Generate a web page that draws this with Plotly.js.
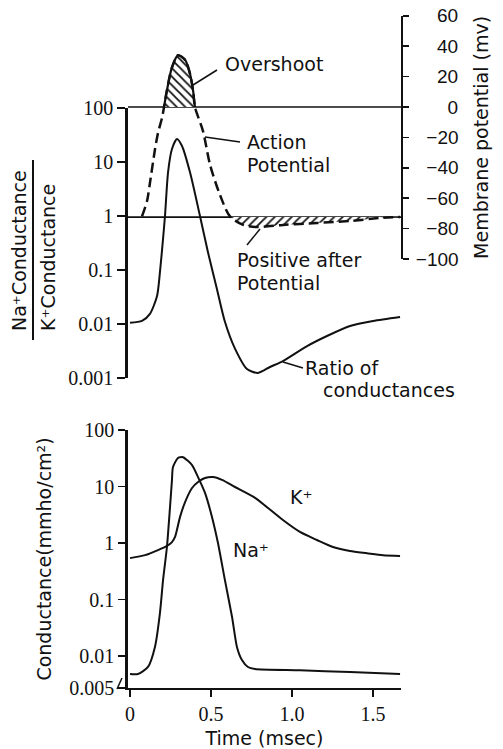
<!DOCTYPE html>
<html><head><meta charset="utf-8">
<script src="https://cdn.plot.ly/plotly-3.0.1.min.js"></script>
<style>html,body{margin:0;padding:0;background:#fff}#chart{width:503px;height:749px}</style>
</head><body><div id="chart"></div>
<script>
// ---- data ----
// time (msec)
const tRatio = [0, 0.074, 0.123, 0.167, 0.185, 0.204, 0.216, 0.235, 0.259, 0.290, 0.321, 0.370, 0.432, 0.481, 0.537, 0.586, 0.648, 0.722, 0.790, 0.864, 0.944, 1.093, 1.216, 1.358, 1.500, 1.667];
// Na+ conductance / K+ conductance
const ratio = [0.0105, 0.0114, 0.0154, 0.033, 0.092, 0.38, 1.0, 6.5, 17.4, 26.7, 19.8, 6.5, 1.0, 0.215, 0.044, 0.011, 0.0035, 0.00147, 0.00124, 0.0016, 0.00206, 0.0039, 0.006, 0.0092, 0.0114, 0.0135];

// action potential (mV)
const tAP = [0.074, 0.105, 0.123, 0.154, 0.173, 0.198, 0.210, 0.228, 0.259, 0.296, 0.340, 0.370, 0.389, 0.401, 0.451, 0.494, 0.556, 0.617, 0.698, 0.784, 0.944, 1.154, 1.358, 1.562, 1.667];
const vAP = [-72, -62, -50, -28, -17, -7, 0, 11, 26, 34, 31, 22, 11, 0, -16, -38, -58, -72, -77.5, -79, -77.6, -76.3, -75, -72.8, -72.4];
const restingPotential = -72.4;   // level of the lower reference line (ratio = 1)
const zeroPotential = 0;

// conductances (mmho/cm2)
const tNa = [0, 0.049, 0.111, 0.154, 0.185, 0.204, 0.228, 0.247, 0.259, 0.265, 0.296, 0.327, 0.383, 0.420, 0.463, 0.506, 0.543, 0.586, 0.630, 0.660, 0.691, 0.728, 0.772, 1.049, 1.358, 1.667];
const na = [0.0048, 0.0048, 0.0064, 0.0145, 0.058, 0.22, 0.85, 4.3, 13, 22, 32, 33, 24, 14.7, 7.7, 2.9, 1.0, 0.22, 0.049, 0.0145, 0.0085, 0.0064, 0.0059, 0.0056, 0.0052, 0.0048];
const tK = [0, 0.093, 0.173, 0.228, 0.259, 0.278, 0.309, 0.340, 0.383, 0.420, 0.463, 0.512, 0.568, 0.648, 0.772, 0.846, 0.944, 1.049, 1.154, 1.253, 1.358, 1.463, 1.562, 1.667];
const k = [0.54, 0.61, 0.75, 0.89, 1.04, 1.28, 2.9, 5.3, 9.4, 12, 14.1, 14.7, 13.1, 9.8, 6.3, 4.3, 2.55, 1.57, 1.13, 0.85, 0.72, 0.66, 0.61, 0.59];

// tick labels
const ratioTicks = [0.001, 0.01, 0.1, 1, 10, 100];
const ratioTickText = ['0.001', '0.01', '0.1', '1', '10', '100'];
const mvTicks = [-100, -80, -60, -40, -20, 0, 20, 40, 60];
const mvTickText = ['\u2212100', '\u2007\u221280', '\u2007\u221260', '\u2007\u221240', '\u2007\u221220', '\u2007\u2007\u20070', '\u2007\u200720', '\u2007\u200740', '\u2007\u200760'];
const condTicks = [0.01, 0.1, 1, 10, 100];
const condTickText = ['0.01', '0.1', '1', '10', '100'];
const condBreakLabel = '0.005';
const timeTicks = [0, 0.5, 1.0, 1.5];
const timeTickText = ['0', '0.5', '1.0', '1.5'];

// ---- layout helpers ----
const W = 503, H = 749;
const px = x => x / W;
const py = y => (H - y) / H;
const xRange = [-0.01235, 1.67284];
const xDomain = [px(128), px(401)];
const y3Range = [-2.566, 2];

const SANS = 'DejaVu Sans, sans-serif';
const SERIF = 'Liberation Serif, serif';
const AX = 'Liberation Sans, Arial, sans-serif';

const apUnder = tAP.map((t, i) => [t, vAP[i]]).filter(p => p[0] >= 0.617);
const apOver = tAP.map((t, i) => [t, vAP[i]]).filter(p => p[1] >= zeroPotential && p[0] > 0.2 && p[0] < 0.41);

const traces = [
  // reference lines
  {x: xRange, y: [zeroPotential, zeroPotential], xaxis: 'x', yaxis: 'y2', mode: 'lines', line: {color: '#111', width: 1.5}, hoverinfo: 'skip'},
  {x: xRange, y: [restingPotential, restingPotential], xaxis: 'x', yaxis: 'y2', mode: 'lines', line: {color: '#111', width: 1.8}, hoverinfo: 'skip'},
  // overshoot hatch
  {x: apOver.map(p => p[0]), y: apOver.map(p => p[1]), xaxis: 'x', yaxis: 'y2', mode: 'lines',
   line: {color: '#111', width: 2.2, shape: 'spline', smoothing: 0.8}, fill: 'tozeroy',
   fillpattern: {shape: '\\', size: 6, solidity: 0.3, fgcolor: '#111', bgcolor: '#fff'}},
  // undershoot hatch (baseline then curve)
  {x: [apUnder[0][0], apUnder[apUnder.length - 1][0]], y: [restingPotential, restingPotential], xaxis: 'x', yaxis: 'y2', mode: 'lines', line: {width: 0}, hoverinfo: 'skip'},
  {x: apUnder.map(p => p[0]), y: apUnder.map(p => p[1]), xaxis: 'x', yaxis: 'y2', mode: 'lines',
   line: {width: 0, shape: 'spline', smoothing: 0.8}, fill: 'tonexty',
   fillpattern: {shape: '/', size: 6, solidity: 0.3, fgcolor: '#111', bgcolor: '#fff'}},
  // action potential
  {x: tAP, y: vAP, xaxis: 'x', yaxis: 'y2', mode: 'lines', line: {color: '#111', width: 2.5, dash: '10px,5px', shape: 'spline', smoothing: 0.8}},
  // ratio of conductances
  {x: tRatio, y: ratio, xaxis: 'x', yaxis: 'y', mode: 'lines', line: {color: '#111', width: 2, shape: 'spline', smoothing: 0.7}},
  // conductances
  {x: tNa, y: na, xaxis: 'x2', yaxis: 'y3', mode: 'lines', line: {color: '#111', width: 2, shape: 'spline', smoothing: 0.6}},
  {x: tK, y: k, xaxis: 'x2', yaxis: 'y3', mode: 'lines', line: {color: '#111', width: 2, shape: 'spline', smoothing: 0.7}}
];

const ann = (text, x, y, opts = {}) => Object.assign({text, x: px(x), y: py(y), xref: 'paper', yref: 'paper', showarrow: false,
  xanchor: 'left', yanchor: 'middle', font: {family: SANS, size: 19, color: '#111'}}, opts);
const seg = (x0, y0, x1, y1, w = 1.5) => ({type: 'line', xref: 'paper', yref: 'paper', x0: px(x0), y0: py(y0), x1: px(x1), y1: py(y1), line: {color: '#111', width: w}});

const layout = {
  width: W, height: H, margin: {l: 0, r: 0, t: 0, b: 0},
  paper_bgcolor: '#fff', plot_bgcolor: 'rgba(0,0,0,0)', showlegend: false,
  font: {family: SANS, color: '#111'},
  xaxis: {domain: xDomain, range: xRange, anchor: 'y', visible: false},
  yaxis: {domain: [py(378), py(108)], type: 'log', range: [-3, 2], anchor: 'x',
    showline: true, linewidth: 2.8, linecolor: '#111', ticks: 'outside', ticklen: 8, tickwidth: 1.5, tickcolor: '#111',
    tickvals: ratioTicks, ticktext: ratioTickText, tickfont: {family: SERIF, size: 20, color: '#111'},
    showgrid: false, zeroline: false},
  yaxis2: {domain: [py(259), py(15.8)], range: [-100, 60], anchor: 'x', side: 'right',
    showline: true, linewidth: 2, linecolor: '#111', ticks: 'outside', ticklen: 6, tickwidth: 1.5, tickcolor: '#111',
    tickvals: mvTicks, ticktext: mvTickText, tickfont: {family: AX, size: 19, color: '#111'},
    ticklabelstandoff: 3,
    showgrid: false, zeroline: false,
    title: {text: 'Membrane potential (mv)', font: {family: SANS, size: 19, color: '#111'}, standoff: 17}},
  xaxis2: {domain: xDomain, range: xRange, anchor: 'y3',
    showline: true, linewidth: 2, linecolor: '#111', ticks: 'outside', ticklen: 7, tickwidth: 2, tickcolor: '#111',
    tickvals: timeTicks, ticktext: timeTickText, tickfont: {family: SERIF, size: 20, color: '#111'},
    showgrid: false, zeroline: false,
    title: {text: 'Time (msec)', font: {family: SANS, size: 19, color: '#111'}, standoff: 12}},
  yaxis3: {domain: [py(688), py(430)], type: 'log', range: y3Range, anchor: 'x2',
    showline: true, linewidth: 2.8, linecolor: '#111', ticks: 'outside', ticklen: 7, tickwidth: 1.5, tickcolor: '#111',
    tickvals: [Math.pow(10, y3Range[0])].concat(condTicks), ticktext: [condBreakLabel].concat(condTickText),
    tickfont: {family: SERIF, size: 20, color: '#111'},
    showgrid: false, zeroline: false,
    title: {text: 'Conductance(mmho/cm\u00b2)', font: {family: SANS, size: 19, color: '#111'}, standoff: 13}},
  annotations: [
    ann('Na\u207aConductance', 19, 251, {textangle: -90, xanchor: 'center'}),
    ann('K\u207aConductance', 48, 258, {textangle: -90, xanchor: 'center'}),
    ann('Overshoot', 223, 64),
    ann('Action', 245, 142),
    ann('Potential', 245, 165),
    ann('Positive after', 235, 260),
    ann('Potential', 235, 283),
    ann('Ratio of', 303, 368),
    ann('conductances', 321, 390),
    ann('K\u207a', 288, 497),
    ann('Na\u207a', 231, 550)
  ],
  shapes: [
    seg(33, 160, 33, 340, 2),
    seg(193, 85, 217, 70),
    seg(205, 137, 240, 142),
    seg(260, 229, 247, 245),
    seg(283, 362, 303, 368),
    seg(117, 689, 122, 678)
  ]
};

Plotly.newPlot('chart', traces, layout, {staticPlot: true, displayModeBar: false});
</script>
</body></html>
